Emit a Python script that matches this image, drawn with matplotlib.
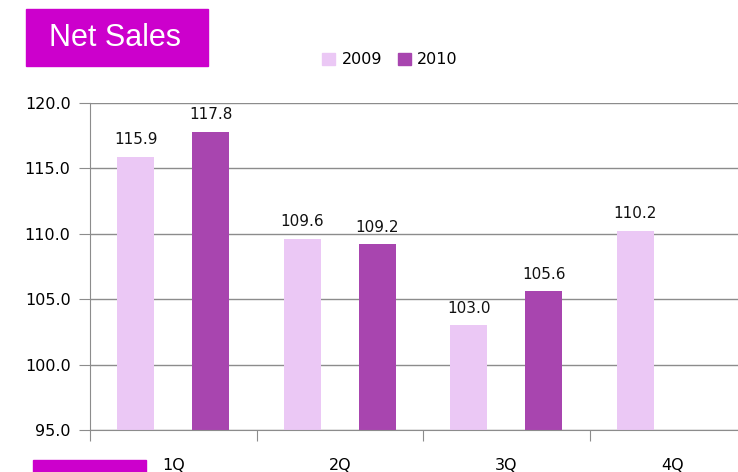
import matplotlib.pyplot as plt
import matplotlib.patches as mpatches
import numpy as np

quarters = ["1Q", "2Q", "3Q", "4Q"]
sales_2009 = [115.9, 109.6, 103.0, 110.2]
sales_2010 = [117.8, 109.2, 105.6, None]
yticks = [95.0, 100.0, 105.0, 110.0, 115.0, 120.0]

c09 = "#ebc8f5"
c10 = "#a845af"
magenta = "#cc00cc"

fig = plt.figure(figsize=(7.38, 4.72), dpi=100)
ax = fig.add_axes([90 / 738, 1 - 430 / 472, 666 / 738, 327 / 472])

x = np.arange(len(quarters))
w = 0.22
off = 0.225

for xs, vals, col in [(x - off, sales_2009, c09), (x + off, sales_2010, c10)]:
    for xi, v in zip(xs, vals):
        if v is None:
            continue
        ax.bar(xi, v - 95, bottom=95, width=w, color=col, zorder=2)
        ax.annotate(f"{v:.1f}", (xi, v), xytext=(0, 7), textcoords="offset points",
                    ha="center", va="bottom", fontsize=11, color="#111111")

ax.set_ylim(95, 120)
ax.set_xlim(-0.5, 3.5)
ax.set_yticks(yticks)
ax.set_yticklabels([f"{t:.1f}" for t in yticks], fontsize=11.5)
ax.yaxis.grid(True, color="#8c8c8c", linewidth=1)
ax.set_axisbelow(True)

# boundaries get tick marks, centers get the quarter labels
ax.set_xticks(np.arange(-0.5, 4.0, 1.0))
ax.set_xticklabels([])
ax.set_xticks(x, minor=True)
ax.set_xticklabels(quarters, minor=True, fontsize=11.5)
ax.tick_params(axis="x", which="major", direction="out", length=8, color="#8c8c8c")
ax.tick_params(axis="x", which="minor", length=0, pad=20)
ax.tick_params(axis="y", direction="out", length=8, color="#8c8c8c", pad=6)

for s in ["top", "right"]:
    ax.spines[s].set_visible(False)
for s in ["left", "bottom"]:
    ax.spines[s].set_color("#8c8c8c")

handles = [mpatches.Patch(color=c09, label="2009"), mpatches.Patch(color=c10, label="2010")]
fig.legend(handles=handles, loc="center", bbox_to_anchor=(390 / 738, 1 - 60 / 472), ncol=2,
           frameon=False, fontsize=11.5, handlelength=0.8, handleheight=0.8,
           handletextpad=0.4, columnspacing=1.0)

# title box
fig.patches.append(mpatches.Rectangle((26 / 738, 1 - 66 / 472), 182 / 738, 57 / 472,
                                      transform=fig.transFigure, color=magenta))
fig.text(115 / 738, 1 - 38 / 472, "Net Sales", ha="center", va="center", color="white",
         fontsize=22, family="Liberation Sans")
fig.patches.append(mpatches.Rectangle((33 / 738, 0), 113 / 738, 12 / 472,
                                      transform=fig.transFigure, color=magenta))

fig.savefig("out.png", dpi=100)
